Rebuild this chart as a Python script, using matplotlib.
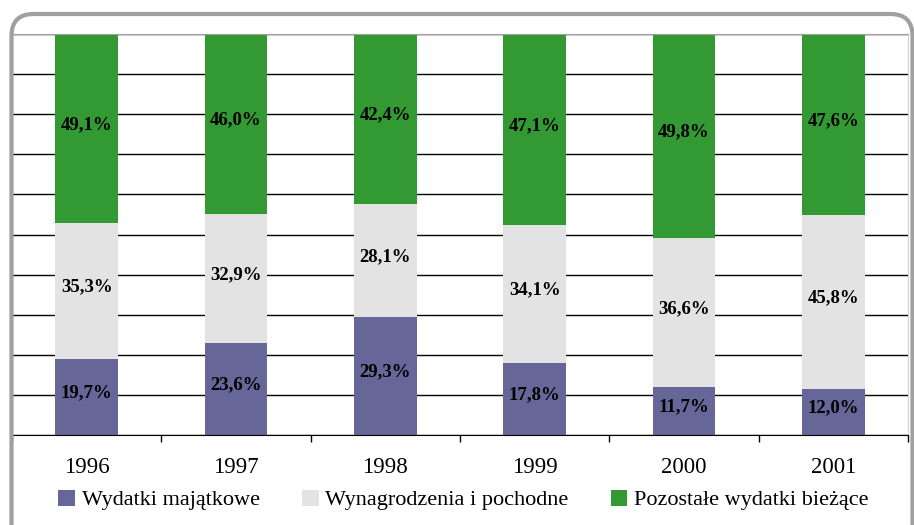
import numpy as np
import matplotlib.pyplot as plt
from matplotlib.patches import FancyBboxPatch

# dane
years = ['1996', '1997', '1998', '1999', '2000', '2001']
majatkowe = [19.7, 23.6, 29.3, 17.8, 11.7, 12.0]
wynagrodzenia = [35.3, 32.9, 28.1, 34.1, 36.6, 45.8]
pozostale = [49.1, 46.0, 42.4, 47.1, 49.8, 47.6]
series_names = ['Wydatki majątkowe', 'Wynagrodzenia i pochodne', 'Pozostałe wydatki bieżące']
colors = ['#666699', '#e3e3e3', '#339933']

plt.rcParams['font.family'] = ['Liberation Serif', 'DejaVu Serif']

fig = plt.figure(figsize=(9.14, 5.25), dpi=100)
# ramka z zaokrąglonymi rogami (w calach, żeby rogi były okrągłe)
frame = FancyBboxPatch((0.115, -0.5), 9.01, 5.25 - 0.14 + 0.5,
                       boxstyle='round,pad=0,rounding_size=0.22',
                       transform=fig.dpi_scale_trans, fill=False,
                       edgecolor='#a0a0a0', linewidth=3, zorder=0)
fig.patches.append(frame)

ax = fig.add_axes([12 / 914, 90 / 525, 896 / 914, 401 / 525])

data = np.array([majatkowe, wynagrodzenia, pozostale])
share = data / data.sum(axis=0) * 100  # 100% skumulowane
x = np.arange(len(years))
bottom = np.zeros(len(years))
for i in range(3):
    bars = ax.bar(x, share[i], 0.42, bottom=bottom, color=colors[i],
                  label=series_names[i], zorder=2)
    for j, b in enumerate(bars):
        ax.text(b.get_x() + b.get_width() / 2, bottom[j] + share[i][j] / 2 + 1,
                f'{data[i][j]:.1f}%'.replace('.', ','), ha='center', va='center',
                fontsize=13.5, fontweight='bold', zorder=3)
    bottom += share[i]

ax.set_xlim(-0.5, len(years) - 0.5)
ax.set_ylim(0, 100)
ax.set_yticks(np.arange(0, 101, 10))
ax.set_yticklabels([])
ax.tick_params(axis='y', length=0)
ax.grid(axis='y', color='black', linewidth=1, zorder=1)
ax.set_xticks(x)
ax.set_xticklabels(years, fontsize=16.5)
ax.set_xticks(np.arange(-0.5, len(years), 1), minor=True)
ax.tick_params(axis='x', which='major', length=0, pad=16)
ax.tick_params(axis='x', which='minor', length=5, width=1)
ax.spines['top'].set_color('#a0a0a0')
ax.spines['right'].set_color('#d0d0d0')
ax.spines['left'].set_color('#a0a0a0')
ax.spines['bottom'].set_color('black')

fig.legend(loc='center', bbox_to_anchor=(0.507, 25 / 525), ncol=3, frameon=False,
           fontsize=16, handlelength=0.75, handleheight=0.75, handletextpad=0.3,
           columnspacing=1.9)

fig.savefig('out.png', dpi=100)
